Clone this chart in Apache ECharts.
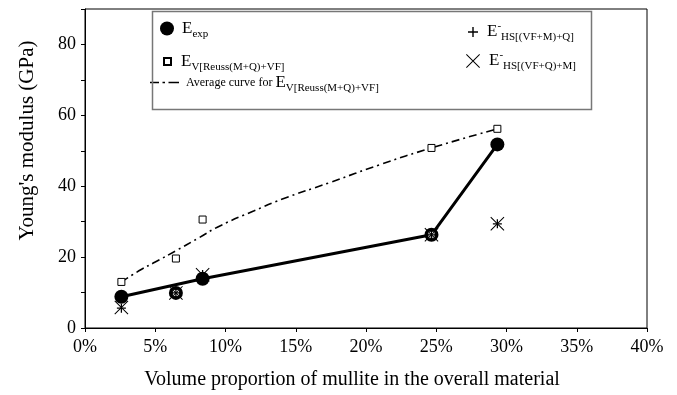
<!DOCTYPE html>
<html lang="en">
<head>
    <meta charset="UTF-8">
    <title>Young's modulus vs mullite</title>
    <script src="https://cdnjs.cloudflare.com/ajax/libs/echarts/6.0.0/echarts.min.js"></script>
    <style>
        html, body { margin: 0; padding: 0; background: #fff; }
        #chart { width: 677px; height: 395px; }
    </style>
</head>
<body>
    <div id="chart"></div>
    <script>
        // volume proportion of mullite (%)
        const mullite = [2.59, 6.47, 8.37, 24.66, 29.35];
        const eExp = [8.8, 9.9, 13.9, 26.3, 51.8];
        const eReuss = [13.0, 19.6, 30.6, 50.8, 56.2];
        const eHsQ = [5.6, 9.9, 15.1, 26.3, 29.4];   // + markers
        const eHsM = [5.8, 9.9, 15.0, 26.3, 29.4];   // x markers
        // points of exp that the black line joins (6.5 % left out)
        const lineIdx = [0, 2, 3, 4];
        // white squares seen inside two of the exp circles
        const boxIdx = [1, 3];
        // average curve for E V[Reuss(M+Q)+VF]
        const avgX = [2.59, 4, 5, 6.47, 8, 9.6, 12, 14, 17.4, 21, 24.66, 29.35];
        const avgY = [13.0, 16.5, 18.6, 21.8, 25.2, 28.8, 33.0, 36.3, 41.0, 46.1, 50.8, 56.2];

        const font = 'Liberation Serif';
        const plusPath = 'path://M4.3,0h1.4v4.3h4.3v1.4h-4.3v4.3h-1.4v-4.3h-4.3v-1.4h4.3z';
        const crossPath = 'path://M0,0.5L0.5,0L10,9.5L9.5,10ZM9.5,0L10,0.5L0.5,10L0,9.5Z';
        const dashDotPath = 'path://M0,0h9v1.5h-9zM12.5,0h2.5v1.5h-2.5zM18.5,0h10.5v1.5h-10.5z';

        const pair = (xs, ys) => xs.map((x, i) => [x, ys[i]]);

        const rich = {
            E: { fontFamily: font, fontSize: 17, lineHeight: 22, color: '#000' },
            sub: { fontFamily: font, fontSize: 11, lineHeight: 11, verticalAlign: 'bottom', color: '#000' },
            sup: { fontFamily: font, fontSize: 11, lineHeight: 11, verticalAlign: 'top', color: '#000' },
            t: { fontFamily: font, fontSize: 12, lineHeight: 22, color: '#000' }
        };
        const labels = {
            'Eexp': '{E|E}{sub|exp}',
            'EV': '{E|E}{sub|V[Reuss(M+Q)+VF]}',
            'Avg': '{t|Average curve for }{E|E}{sub|V[Reuss(M+Q)+VF]}',
            'HS1': '{E|E}{sup|-}{sub|HS[(VF+M)+Q]}',
            'HS2': '{E|E}{sup|-}{sub|HS[(VF+Q)+M]}'
        };
        function leg(name, left, top, w, h, gap, icon) {
            const l = {
                data: [name], left: left, top: top, itemWidth: w, itemHeight: h,
                itemGap: 0, padding: 0, selectedMode: false,
                formatter: n => labels[n],
                textStyle: { rich: rich, padding: [0, 0, 0, gap] }
            };
            if (icon) l.icon = icon;
            return l;
        }

        const chart = echarts.init(document.getElementById('chart'));
        chart.setOption({
            animation: false,
            grid: { left: 85, right: 30, top: 9, bottom: 65, show: true, borderColor: '#000', borderWidth: 1 },
            legend: [
                leg('Eexp', 160, 20, 14, 14, 3),
                leg('EV', 163, 53, 7, 7, 5),
                leg('Avg', 150, 74, 29, 1.5, 2, dashDotPath),
                leg('HS1', 468, 21, 10, 10, 4),
                leg('HS2', 466, 50, 14, 14, 4)
            ],
            graphic: [{
                type: 'rect', left: 150, top: 9, z: 100,
                shape: { width: 439, height: 98 },
                style: { fill: 'none', stroke: '#777', lineWidth: 1.5 }
            }],
            xAxis: {
                type: 'value', min: 0, max: 40, interval: 5,
                axisLine: { lineStyle: { color: '#000', width: 1 } },
                axisTick: { length: 4, lineStyle: { color: '#000' } },
                splitLine: { show: false },
                axisLabel: { formatter: '{value}%', fontFamily: font, fontSize: 18, color: '#000', margin: 10 },
                name: 'Volume proportion of mullite in the overall material',
                nameLocation: 'middle', nameGap: 42,
                nameTextStyle: { fontFamily: font, fontSize: 20, color: '#000', padding: [0, 28, 0, 0] }
            },
            yAxis: {
                type: 'value', min: 0, max: 90, interval: 10,
                axisLine: { show: true, lineStyle: { color: '#000', width: 1 } },
                axisTick: { show: true, length: 4, lineStyle: { color: '#000' } },
                splitLine: { show: false },
                axisLabel: {
                    formatter: v => (v % 20 === 0 ? String(v) : ''),
                    fontFamily: font, fontSize: 18, color: '#000', margin: 9
                },
                name: "Young's modulus (GPa)",
                nameLocation: 'middle', nameGap: 47,
                nameTextStyle: { fontFamily: font, fontSize: 21, color: '#000', padding: [0, 0, 0, 56] }
            },
            series: [
                {
                    name: 'line', type: 'line', symbol: 'none', z: 2,
                    data: lineIdx.map(i => [mullite[i], eExp[i]]),
                    lineStyle: { color: '#000', width: 3 }
                },
                {
                    name: 'Avg', type: 'line', symbol: 'none', smooth: true, z: 2,
                    data: pair(avgX, avgY),
                    lineStyle: { color: '#000', width: 1.6, type: [8, 4, 2, 4] },
                    itemStyle: { color: '#000' }
                },
                {
                    name: 'Eexp', type: 'scatter', symbol: 'circle', symbolSize: 14, z: 3,
                    data: pair(mullite, eExp),
                    itemStyle: { color: '#000', opacity: 1 }
                },
                {
                    name: 'box', type: 'scatter', symbol: 'rect', symbolSize: 7, z: 4,
                    data: boxIdx.map(i => [mullite[i], eExp[i]]),
                    itemStyle: { color: '#fff', borderColor: '#000', borderWidth: 1, opacity: 1 }
                },
                {
                    name: 'EV', type: 'scatter', symbol: 'rect', symbolSize: 7, z: 4,
                    data: pair(mullite, eReuss),
                    itemStyle: { color: '#fff', borderColor: '#000', borderWidth: 1, opacity: 1 }
                },
                {
                    name: 'HS1', type: 'scatter', symbol: plusPath, symbolSize: 9, z: 5,
                    data: pair(mullite, eHsQ),
                    itemStyle: { color: '#000', opacity: 1 }
                },
                {
                    name: 'HS2', type: 'scatter', symbol: crossPath, symbolSize: 14, z: 5,
                    data: pair(mullite, eHsM),
                    itemStyle: { color: '#000', opacity: 1 }
                }
            ]
        });
    </script>
</body>
</html>
